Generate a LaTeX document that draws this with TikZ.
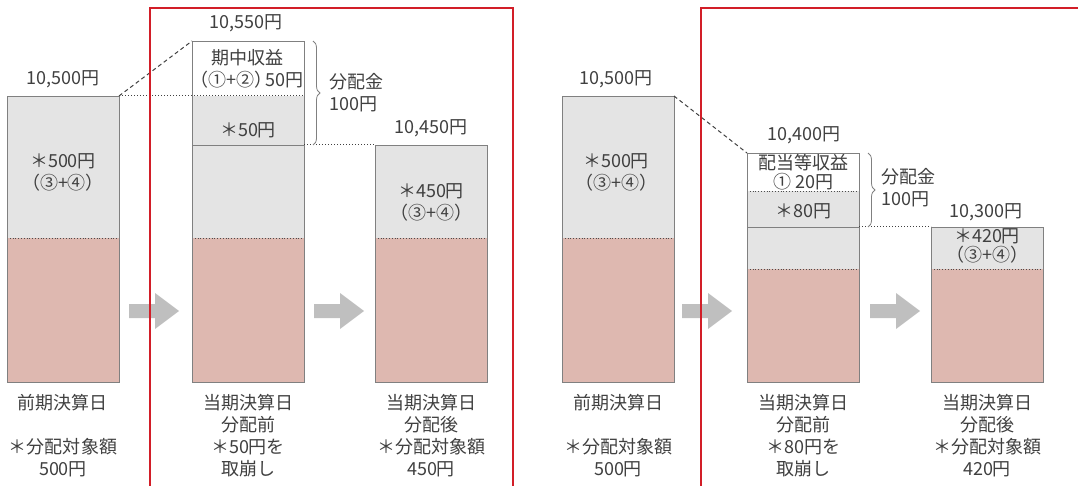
\documentclass[tikz,border=0pt]{standalone}
\usepackage{fontspec}
\setmainfont{Noto Sans CJK JP}
\usetikzlibrary{decorations.pathreplacing}

\definecolor{upgray}{RGB}{228,228,228}
\definecolor{lowpink}{RGB}{222,184,176}
\definecolor{edgegray}{RGB}{128,128,128}
\definecolor{txtgray}{RGB}{64,64,64}
\definecolor{framered}{RGB}{210,30,40}
\definecolor{arrowgray}{RGB}{191,191,191}

\begin{document}
\begin{tikzpicture}[
    x=1pt, y=-1pt,
    every node/.style={font=\fontsize{18}{22}\selectfont, text=txtgray},
    seg/.style={rectangle, anchor=north west, minimum width=112pt, inner sep=0pt, outer sep=0pt},
    outline/.style={draw=edgegray, line width=0.9pt},
    sepline/.style={edgegray!60!black, dotted, line width=0.8pt},
    cutline/.style={edgegray, line width=0.9pt},
    link/.style={txtgray, line width=1pt, dash pattern=on 4pt off 3pt},
    level/.style={txtgray, dotted, line width=1pt},
    brace/.style={decorate, decoration={brace, amplitude=7pt}, edgegray, line width=0.8pt},
    blockarrow/.style={fill=arrowgray},
    redframe/.style={framered, line width=1.6pt},
    tag/.style={align=center},
    tight/.style={align=center, font=\fontsize{18}{18.5}\selectfont}
]
    \useasboundingbox (0,0) rectangle (1078,486);
    \clip (0,0) rectangle (1078,486);

    % Left case: bars
    \node[seg, fill=lowpink, minimum height=286pt] (prevA) at (7,96) {};
    \node[seg, fill=upgray, minimum height=142pt] (prevAtop) at (7,96) {};

    \node[seg, fill=lowpink, minimum height=341pt] (nowB) at (192,41) {};
    \node[seg, fill=white, minimum height=55pt] (nowBinc) at (192,41) {};
    \node[seg, fill=upgray, minimum height=49pt] (nowBcut) at (192,96) {};
    \node[seg, fill=upgray, minimum height=93pt] (nowBkeep) at (192,145) {};

    \node[seg, fill=lowpink, minimum height=237pt] (postC) at (375,145) {};
    \node[seg, fill=upgray, minimum height=93pt] (postCtop) at (375,145) {};

    % Right case: bars
    \node[seg, fill=lowpink, minimum height=286pt] (prevD) at (562,96) {};
    \node[seg, fill=upgray, minimum height=142pt] (prevDtop) at (562,96) {};

    \node[seg, fill=lowpink, minimum height=229pt] (nowE) at (747,153) {};
    \node[seg, fill=white, minimum height=38pt] (nowEinc) at (747,153) {};
    \node[seg, fill=upgray, minimum height=36pt] (nowEcut) at (747,191) {};
    \node[seg, fill=upgray, minimum height=42pt] (nowEkeep) at (747,227) {};

    \node[seg, fill=lowpink, minimum height=155pt] (postF) at (931,227) {};
    \node[seg, fill=upgray, minimum height=42pt] (postFtop) at (931,227) {};

    % Separators inside the bars
    \draw[sepline] (prevAtop.south west) -- (prevAtop.south east);
    \draw[sepline] (nowBkeep.south west) -- (nowBkeep.south east);
    \draw[sepline] (postCtop.south west) -- (postCtop.south east);
    \draw[sepline] (prevDtop.south west) -- (prevDtop.south east);
    \draw[sepline] (nowEkeep.south west) -- (nowEkeep.south east);
    \draw[sepline] (postFtop.south west) -- (postFtop.south east);
    \draw[sepline] (nowEcut.north west) -- (nowEcut.north east);
    \draw[cutline] (nowBkeep.north west) -- (nowBkeep.north east);
    \draw[cutline] (nowEkeep.north west) -- (nowEkeep.north east);

    % Bar outlines
    \foreach \b in {prevA, nowB, postC, prevD, nowE, postF}
        \draw[outline] (\b.north west) rectangle (\b.south east);

    % Level lines between bars
    \draw[link] (prevA.north east) -- (nowB.north west);
    \draw[level] (prevA.north east) -- (nowBcut.north east);
    \draw[level] (nowBkeep.north east) -- (postC.north west);
    \draw[link] (prevD.north east) -- (nowE.north west);
    \draw[level] (nowEkeep.north east) -- (postF.north west);

    % Braces for the payout
    \draw[brace] ([xshift=9pt]nowBinc.north east) -- ([xshift=9pt]nowBcut.south east);
    \draw[brace] ([xshift=9pt]nowEinc.north east) -- ([xshift=9pt]nowEcut.south east);
    \node[align=left, anchor=west] (payB) at (326,93) {分配金\\100円};
    \node[align=left, anchor=west] (payE) at (878,188) {分配金\\100円};

    % Amounts above the bars
    \node (prevAval) at (63,79) {10,500円};
    \node (nowBval) at (246,23) {10,550円};
    \node (postCval) at (431,128) {10,450円};
    \node (prevDval) at (616,79) {10,500円};
    \node (nowEval) at (804,135) {10,400円};
    \node (postFval) at (986,212) {10,300円};

    % Texts inside the bars
    \node[tag] (prevAin) at (63,172) {＊500円\\（③+④）};
    \node[tag] (nowBinctxt) at (247,69) {期中収益\\（①+②）\kern-0.4em 50円};
    \node (nowBcuttxt) at (248,130) {＊50円};
    \node[tag] (postCin) at (431,202) {＊450円\\（③+④）};
    \node[tag] (prevDin) at (616,172) {＊500円\\（③+④）};
    \node[tight] (nowEinctxt) at (803,172) {配当等収益\\① 20円};
    \node (nowEcuttxt) at (803,211) {＊80円};
    \node[tight] (postFin) at (987,246) {＊420円\\（③+④）};

    % Captions under the bars
    \node[tag] (prevAcap) at (63,436) {前期決算日\\[22pt]＊分配対象額\\500円};
    \node[tag] (nowBcap) at (248,436) {当期決算日\\分配前\\＊50円を\\取崩し};
    \node[tag] (postCcap) at (431,436) {当期決算日\\分配後\\＊分配対象額\\450円};
    \node[tag] (prevDcap) at (618,436) {前期決算日\\[22pt]＊分配対象額\\500円};
    \node[tag] (nowEcap) at (803,436) {当期決算日\\分配前\\＊80円を\\取崩し};
    \node[tag] (postFcap) at (987,436) {当期決算日\\分配後\\＊分配対象額\\420円};

    % Block arrows
    \foreach \ax in {129,314,682,870}
        \fill[blockarrow] (\ax,304) -- (\ax+26,304) -- (\ax+26,293) -- (\ax+50,311)
            -- (\ax+26,329) -- (\ax+26,318) -- (\ax,318) -- cycle;

    % Red frames
    \draw[redframe] (150,492) -- (150,8) -- (513,8) -- (513,492);
    \draw[redframe] (701,492) -- (701,8) -- (1090,8);
\end{tikzpicture}
\end{document}
